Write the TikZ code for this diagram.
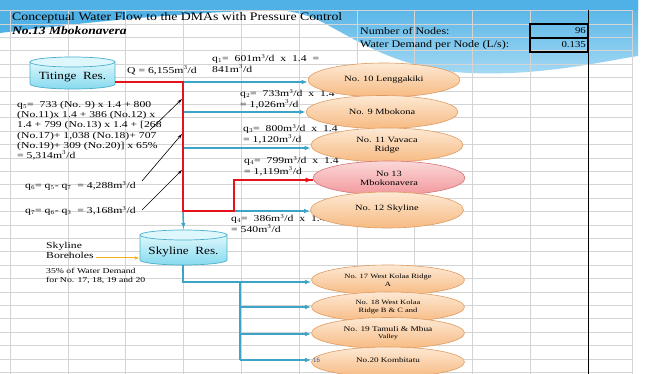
\documentclass[tikz,border=0pt]{standalone}
\usepackage{fontspec}
\setmainfont{Liberation Serif}
\newfontfamily\wideserif[FakeStretch=1.3]{Liberation Serif}
\newfontfamily\midserif[FakeStretch=1.2]{Liberation Serif}
\usetikzlibrary{shapes.geometric,arrows.meta}

\definecolor{skyA}{HTML}{4FB1E6}
\definecolor{skyB}{HTML}{A6DAF4}
\definecolor{gridc}{HTML}{D4D4D4}
\definecolor{pipec}{HTML}{3CA4C7}
\definecolor{redpipe}{HTML}{E5121B}
\definecolor{peachT}{HTML}{FDE9D4}
\definecolor{peachB}{HTML}{F7BA82}
\definecolor{peachD}{HTML}{DF9C62}
\definecolor{pinkT}{HTML}{FBD8D8}
\definecolor{pinkB}{HTML}{F2989C}
\definecolor{pinkD}{HTML}{D6757A}
\definecolor{cylT}{HTML}{DDF7FC}
\definecolor{cylB}{HTML}{86DAEF}
\definecolor{cylD}{HTML}{4AAFCB}
\definecolor{borec}{HTML}{F2B418}
\definecolor{rowno}{HTML}{3D5FA8}

\begin{document}
\begin{tikzpicture}[x=1pt,y=-1pt,
  gridline/.style={draw=gridc,line width=0.6pt},
  tankbody/.style={draw=cylD,line width=0.7pt,top color=cylT,bottom color=cylB},
  tanktop/.style={draw=cylD,line width=0.7pt,fill=cylT},
  resbox/.style={inner sep=0pt,minimum height=22pt,font=\midserif\fontsize{11}{12}\selectfont},
  dma/.style={ellipse,draw=peachD,line width=0.6pt,top color=peachT,bottom color=peachB,
    minimum width=152pt,minimum height=34pt,inner sep=0pt,align=center,
    font=\wideserif\fontsize{8}{9}\selectfont},
  dmared/.style={dma,draw=pinkD,top color=pinkT,bottom color=pinkB},
  flowline/.style={draw=pipec,line width=1.5pt,-{Latex[length=6pt,width=4.5pt]}},
  mainline/.style={draw=redpipe,line width=2.4pt,line join=miter},
  pointer/.style={draw=black,line width=0.6pt,-{Stealth[length=5pt,width=3pt]}},
  lbl/.style={inner sep=0pt,anchor=north west,align=left,font=\wideserif\fontsize{9}{10.2}\selectfont},
  hdr/.style={inner sep=0pt,anchor=west,font=\midserif\fontsize{10}{11}\selectfont}
]
\useasboundingbox (0,0) rectangle (649,374);
\fill[white] (0,0) rectangle (649,374);

% sky-blue wave behind the sheet header
\shade[top color=skyA,bottom color=skyB]
  (250,0) -- (638,0) -- (638,56)
  .. controls (600,62) and (540,76) .. (470,73)
  .. controls (400,70) and (360,42) .. (322,22)
  .. controls (300,11) and (280,9) .. (250,9) -- cycle;
\fill[skyA] (0,0) -- (638,0) -- (638,10) -- (300,10)
  .. controls (220,10) and (120,18) .. (0,33) -- cycle;

% spreadsheet grid
\foreach \gx in {10,67.8,125.6,183.4,241.2,299,356.8,414.6,472.4,530.2,632}
  \draw[gridline] (\gx,10) -- (\gx,374);
\foreach \k in {0,...,27}
  \draw[gridline] (0,10.5+13.4*\k) -- (632,10.5+13.4*\k);
\draw[black,line width=0.8pt] (588,10) -- (588,374);

% header block
\node[inner sep=0pt,anchor=west,font=\midserif\fontsize{11.5}{12}\selectfont] (title) at (12,17.5)
  {Conceptual Water Flow to the DMAs with Pressure Control};
\node[inner sep=0pt,anchor=west,font=\midserif\fontsize{11.3}{12}\selectfont\bfseries\itshape] (sub) at (12,31)
  {No.13 Mbokonavera};
\node[hdr] (nn) at (360,31) {Number of Nodes:};
\node[hdr] (wd) at (360,45) {Water Demand per Node (L/s):};
\draw[black,line width=1.1pt] (530,24) rectangle (588,52);
\draw[black,line width=1.1pt] (530,38) -- (588,38);
\node[hdr,anchor=east,font=\midserif\fontsize{9}{10}\selectfont] (nnv) at (586,31) {96};
\node[hdr,anchor=east,font=\midserif\fontsize{9}{10}\selectfont] (wdv) at (586,45) {0.135};

% reservoirs
\path[tankbody] (30,62) -- (30,84) arc[start angle=180,end angle=0,x radius=42.5,y radius=5] -- (115,62) -- cycle;
\path[tanktop] (72.5,62) ellipse[x radius=42.5,y radius=5];
\node[resbox,minimum width=85pt] (tit) at (72.5,77) {Titinge\ \ Res.};

\path[tankbody] (140,235) -- (140,260) arc[start angle=180,end angle=0,x radius=43.5,y radius=5] -- (227,235) -- cycle;
\path[tanktop] (183.5,235) ellipse[x radius=43.5,y radius=5];
\node[resbox,minimum width=87pt] (sky) at (183.5,252) {Skyline\ \ Res.};

% flow labels
\node[lbl,anchor=west] (Q) at (127,70) {Q = 6,155m$^3$/d};
\node[lbl] (q1) at (212,54) {q$_1$= \ 601m$^3$/d \ x \ 1.4 \ =\\841m$^3$/d};
\node[lbl] (q2) at (240,89) {q$_2$= \ 733m$^3$/d \ x \ 1.4\\= 1,026m$^3$/d};
\node[lbl] (q3) at (243,124) {q$_3$= \ 800m$^3$/d \ x \ 1.4\\= 1,120m$^3$/d};
\node[lbl] (q4) at (244,156) {q$_4$= \ 799m$^3$/d \ x \ 1.4\\= 1,119m$^3$/d};
\node[lbl] (q4b) at (231,214) {q$_4$= \ 386m$^3$/d \ x \ 1.4\\= 540m$^3$/d};
\node[lbl] (q5) at (17,101) {q$_5$= \ 733 (No. 9) x 1.4 + 800\\(No.11)x 1.4 + 386 (No.12) x\\1.4 + 799 (No.13) x 1.4 + [268\\(No.17)+ 1,038 (No.18)+ 707\\(No.19)+ 309 (No.20)] x 65\%\\= 5,314m$^3$/d};
\node[lbl,anchor=west] (q6) at (25,186) {q$_6$= q$_5$- q$_7$ \ = 4,288m$^3$/d};
\node[lbl,anchor=west] (q7) at (25,211) {q$_7$= q$_6$- q$_3$ \ = 3,168m$^3$/d};
\node[lbl] (bh) at (46,242) {Skyline\\Boreholes};
\node[lbl,font=\wideserif\fontsize{7.5}{9}\selectfont] (pct) at (46,268) {35\% of Water Demand\\for No. 17, 18, 19 and 20};

% junction points on the pipes
\coordinate (r0) at (115,82);
\coordinate (j1) at (183,82);
\coordinate (j2) at (183,112);
\coordinate (j3) at (183,148);
\coordinate (j4) at (183,211);
\coordinate (k1) at (234,211);
\coordinate (k2) at (234,180);
\coordinate (s0) at (183,265);
\coordinate (s1) at (183,282);
\coordinate (b1) at (240,282);
\coordinate (b2) at (240,307);
\coordinate (b3) at (240,334);
\coordinate (b4) at (240,360);
\coordinate (bhs) at (96,258);

% DMA ellipses
\node[dma] (n10) at (384,80) {No. 10 Lenggakiki};
\node[dma,minimum height=33pt] (n9) at (382,112) {No. 9 Mbokona};
\node[dma] (n11) at (387,145) {No. 11 Vavaca\\Ridge};
\node[dmared] (n13) at (389,178) {No 13\\Mbokonavera};
\node[dma,minimum width=153pt,minimum height=36pt] (n12) at (387,210) {\raisebox{5pt}{No. 12 Skyline}};
\node[dma,minimum width=153pt,minimum height=30pt,font=\wideserif\fontsize{6.5}{7.5}\selectfont] (n17) at (388,280)
  {No. 17 West Kolaa Ridge\\A};
\node[dma,minimum width=153pt,minimum height=30pt,font=\wideserif\fontsize{6.5}{8}\selectfont] (n18) at (388,307)
  {No. 18 West Kolaa\\Ridge B \& C and};
\node[dma,minimum width=153pt,minimum height=31pt,font=\wideserif\fontsize{7.2}{7.5}\selectfont] (n19) at (388,333)
  {No. 19 Tamuli \& Mbua\\{\fontsize{6}{7}\selectfont Valley}};
\node[dma,minimum width=153pt,minimum height=30pt,font=\wideserif\fontsize{7}{8}\selectfont] (n20) at (388,362)
  {\raisebox{4pt}{No.20 Kombitatu}};

% distribution pipes
\draw[flowline] (j1) -- (j1 -| n10.west);
\draw[flowline] (j2) -- (j2 -| n9.west);
\draw[flowline] (j3) -- (j3 -| n11.west);
\draw[flowline] (k1) -- (k1 -| n12.west);
\draw[flowline] (j4) -- (sky.north |- 0,229);
\draw[draw=pipec,line width=1.5pt] (s0) -- (s1) -- (b1);
\draw[flowline] (b1) -- (b1 -| n17.west);
\draw[draw=pipec,line width=1.5pt] (b1) -- (b4);
\draw[flowline] (b2) -- (b2 -| n18.west);
\draw[flowline] (b3) -- (b3 -| n19.west);
\draw[flowline] (b4) -- (b4 -| n20.west);
\node[inner sep=0pt,anchor=west,text=rowno,font=\sffamily\fontsize{6.5}{7}\selectfont] (rn) at (313,360) {16};

% pressure-controlled main
\draw[mainline] (r0) -- (j1) -- (j4) -- (k1) -- (k2) -- (k2 -| n13.west);
\draw[redpipe,line width=2.4pt,-{Latex[length=7pt,width=5pt]}] (k2) -- (k2 -| n13.west);

% borehole supply
\draw[draw=borec,line width=1pt,-{Latex[length=5pt,width=3.5pt]}] (bhs) -- (bhs -| sky.west);

% label pointers
\coordinate (p1) at (150,130);
\coordinate (p2) at (142,181);
\coordinate (p3) at (142,210);
\draw[pointer] (p1) -- (182,99);
\draw[pointer] (p2) -- (182,134);
\draw[pointer] (p3) -- (182,170);
\end{tikzpicture}
\end{document}
